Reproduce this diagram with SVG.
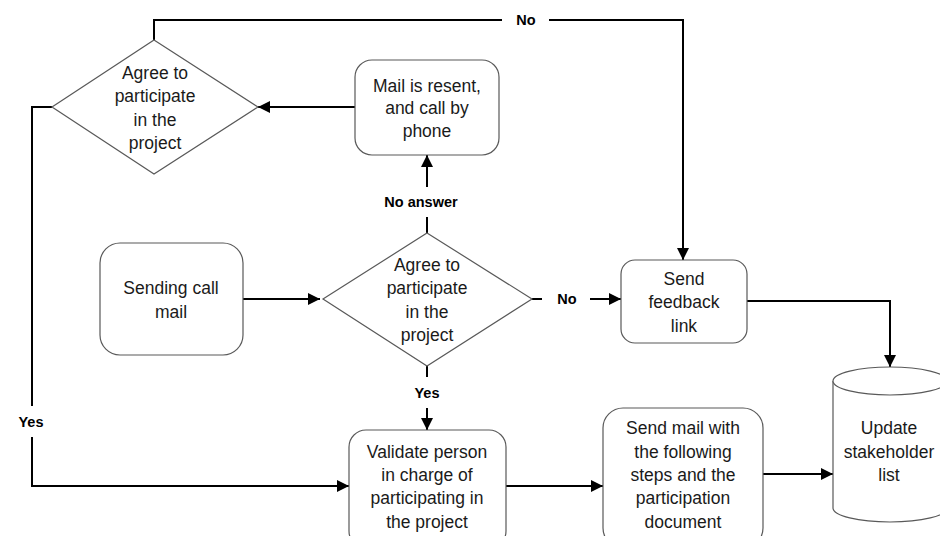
<svg xmlns="http://www.w3.org/2000/svg" width="940" height="536" viewBox="0 0 940 536">
<defs>
<marker id="arr" markerUnits="userSpaceOnUse" markerWidth="12" markerHeight="12" refX="12" refY="6" orient="auto">
<path d="M0,0 L12,6 L0,12 z" fill="#000"/>
</marker>
<style>
.node{fill:#fff;stroke:#595959;stroke-width:1.2}
.t{font-family:"Liberation Sans",Arial,sans-serif;font-size:17.5px;fill:#1a1a1a;text-anchor:middle;dominant-baseline:central}
.lbl{font-family:"Liberation Sans",Arial,sans-serif;font-size:14.5px;font-weight:bold;fill:#000;text-anchor:middle;dominant-baseline:central}
.c{fill:none;stroke:#000;stroke-width:2}
.ca{fill:none;stroke:#000;stroke-width:2;marker-end:url(#arr)}
</style>
</defs>
<rect width="940" height="536" fill="#fff"/>
<g id="connectors">
<path class="c" d="M154,40 V20 H502"/>
<path class="ca" d="M549,20 H683 V260"/>
<text class="lbl" x="526" y="20">No</text>
<path class="ca" d="M355,107 H258"/>
<path class="c" d="M427,233 V217"/>
<path class="ca" d="M427,187 V155"/>
<text class="lbl" x="421" y="202">No answer</text>
<path class="ca" d="M243,299 H320"/>
<path class="c" d="M532,299 H542"/>
<text class="lbl" x="567" y="299">No</text>
<path class="ca" d="M590,299 H621"/>
<path class="ca" d="M747,301 H890 V367"/>
<path class="c" d="M427,366 V377"/>
<text class="lbl" x="427" y="393">Yes</text>
<path class="ca" d="M427,408 V430"/>
<path class="c" d="M52,107 H32 V406"/>
<text class="lbl" x="31" y="422">Yes</text>
<path class="ca" d="M32,437 V486 H349"/>
<path class="ca" d="M506,486 H603"/>
<path class="ca" d="M763,474 H833"/>
</g>
<g id="decision1">
<polygon class="node" points="154,40 258,107 154,174 52,107"/>
<text class="t" x="155" y="73">Agree to</text>
<text class="t" x="155" y="96">participate</text>
<text class="t" x="155" y="120">in the</text>
<text class="t" x="155" y="143">project</text>
</g>
<g id="resend">
<rect class="node" x="355" y="60" width="144" height="95" rx="17"/>
<text class="t" x="427" y="86">Mail is resent,</text>
<text class="t" x="427" y="108">and call by</text>
<text class="t" x="427" y="131">phone</text>
</g>
<g id="sending">
<rect class="node" x="100" y="243" width="143" height="112" rx="20"/>
<text class="t" x="171" y="288">Sending call</text>
<text class="t" x="171" y="312">mail</text>
</g>
<g id="decision2">
<polygon class="node" points="427,233 532,299 427,366 323,299"/>
<text class="t" x="427" y="265">Agree to</text>
<text class="t" x="427" y="288">participate</text>
<text class="t" x="427" y="312">in the</text>
<text class="t" x="427" y="335">project</text>
</g>
<g id="feedback">
<rect class="node" x="621" y="260" width="126" height="83" rx="14"/>
<text class="t" x="684" y="279">Send</text>
<text class="t" x="684" y="302">feedback</text>
<text class="t" x="684" y="326">link</text>
</g>
<g id="validate">
<rect class="node" x="349" y="430" width="157" height="118" rx="17"/>
<text class="t" x="427" y="452">Validate person</text>
<text class="t" x="427" y="475">in charge of</text>
<text class="t" x="427" y="498">participating in</text>
<text class="t" x="427" y="522">the project</text>
</g>
<g id="sendmail">
<rect class="node" x="603" y="408" width="160" height="140" rx="20"/>
<text class="t" x="683" y="428">Send mail with</text>
<text class="t" x="683" y="452">the following</text>
<text class="t" x="683" y="475">steps and the</text>
<text class="t" x="683" y="498">participation</text>
<text class="t" x="683" y="522">document</text>
</g>
<g id="stakeholder">
<path class="node" d="M833,381 V508 A57,14 0 0 0 947,508 V381 A57,14 0 0 0 833,381 z"/>
<path class="node" fill="none" d="M833,381 A57,14 0 0 0 947,381"/>
<text class="t" x="889" y="428">Update</text>
<text class="t" x="889" y="452">stakeholder</text>
<text class="t" x="889" y="475">list</text>
</g>
</svg>
